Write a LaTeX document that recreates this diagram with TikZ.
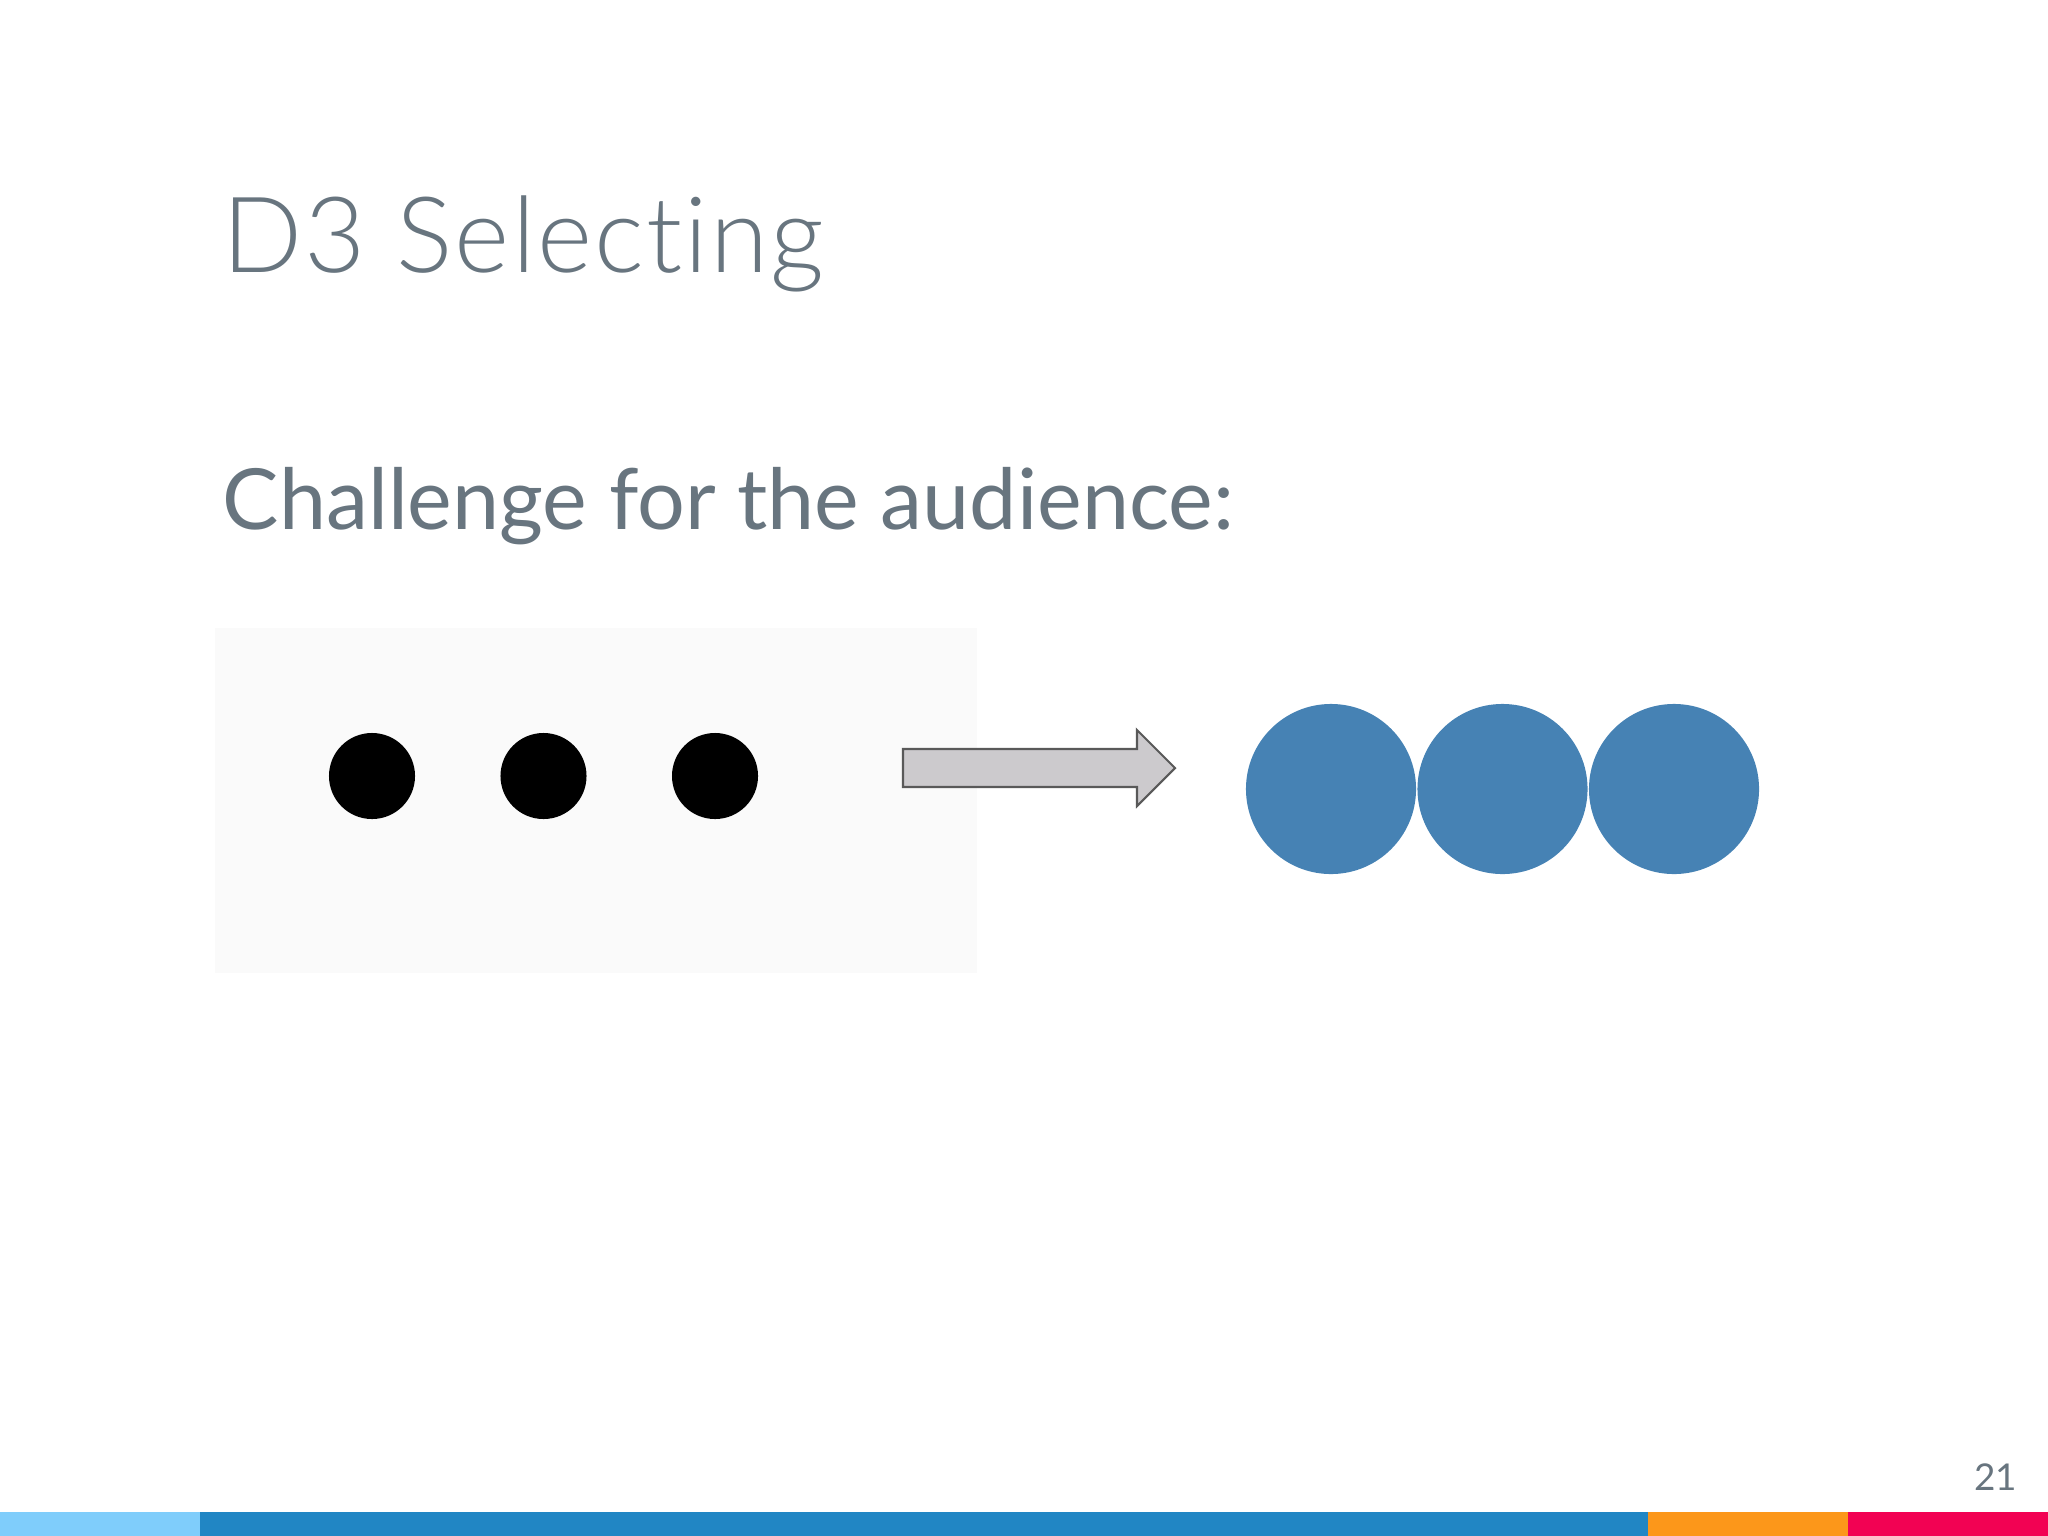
\documentclass[tikz,border=0pt]{standalone}
\usepackage{fontspec}
\setmainfont{Lato}
\newfontfamily\titlefont[Ligatures={NoCommon,NoContextual}, LetterSpace=2]{Lato Light}
\usepackage{tikz}
\usetikzlibrary{positioning}
\definecolor{slidegray}{HTML}{68757F}
\definecolor{boxgray}{HTML}{FAFAFA}
\definecolor{dotblue}{HTML}{4682B4}
\definecolor{arrowgray}{HTML}{CCCACD}
\definecolor{barlight}{HTML}{7FCDFB}
\definecolor{barblue}{HTML}{2186C4}
\definecolor{barorange}{HTML}{FC971A}
\definecolor{barred}{HTML}{F20253}

\begin{document}
\begin{tikzpicture}[x=0.01cm, y=-0.01cm,
		blackdot/.style={circle, fill=black, inner sep=0pt, minimum size=0.86cm},
		bluedot/.style={circle, fill=dotblue, inner sep=0pt, minimum size=1.7cm},
		slidetext/.style={text=slidegray, inner sep=0pt}]
	\useasboundingbox (0,0) rectangle (2048,1536);
	%\fill[white] (0,0) rectangle (2048,1536);
	\node[slidetext, anchor=base west, font=\titlefont\fontsize{30}{36}\selectfont] (title) at (222,272) {D3 Selecting};
	\node[slidetext, anchor=base west, font=\fontsize{24}{29}\selectfont] (challenge) at (222,529) {Challenge for the audience:};
	% left picture: three black dots on a grey box
	\fill[boxgray] (215,628) rectangle (977,973);
	\node[blackdot] (dotA) at (372,776) {};
	\node[blackdot, right=0.84cm of dotA] (dotB) {};
	\node[blackdot, right=0.84cm of dotB] (dotC) {};
	% arrow
	\draw[fill=arrowgray, draw=black!65, line width=0.6pt] (903,749) -- (1137,749) -- (1137,730) -- (1175,768) -- (1137,806) -- (1137,787) -- (903,787) -- cycle;
	% right picture: three blue dots
	\node[bluedot] (blueA) at (1331,789) {};
	\node[bluedot, right=0cm of blueA] (blueB) {};
	\node[bluedot, right=0cm of blueB] (blueC) {};
	% page number and bottom bar
	\node[slidetext, anchor=base east, font=\fontsize{10.5}{12}\selectfont] (pagenum) at (2018,1490) {21};
	\fill[barlight] (0,1512) rectangle (200,1536);
	\fill[barblue] (200,1512) rectangle (1648,1536);
	\fill[barorange] (1648,1512) rectangle (1848,1536);
	\fill[barred] (1848,1512) rectangle (2048,1536);
\end{tikzpicture}
\end{document}
